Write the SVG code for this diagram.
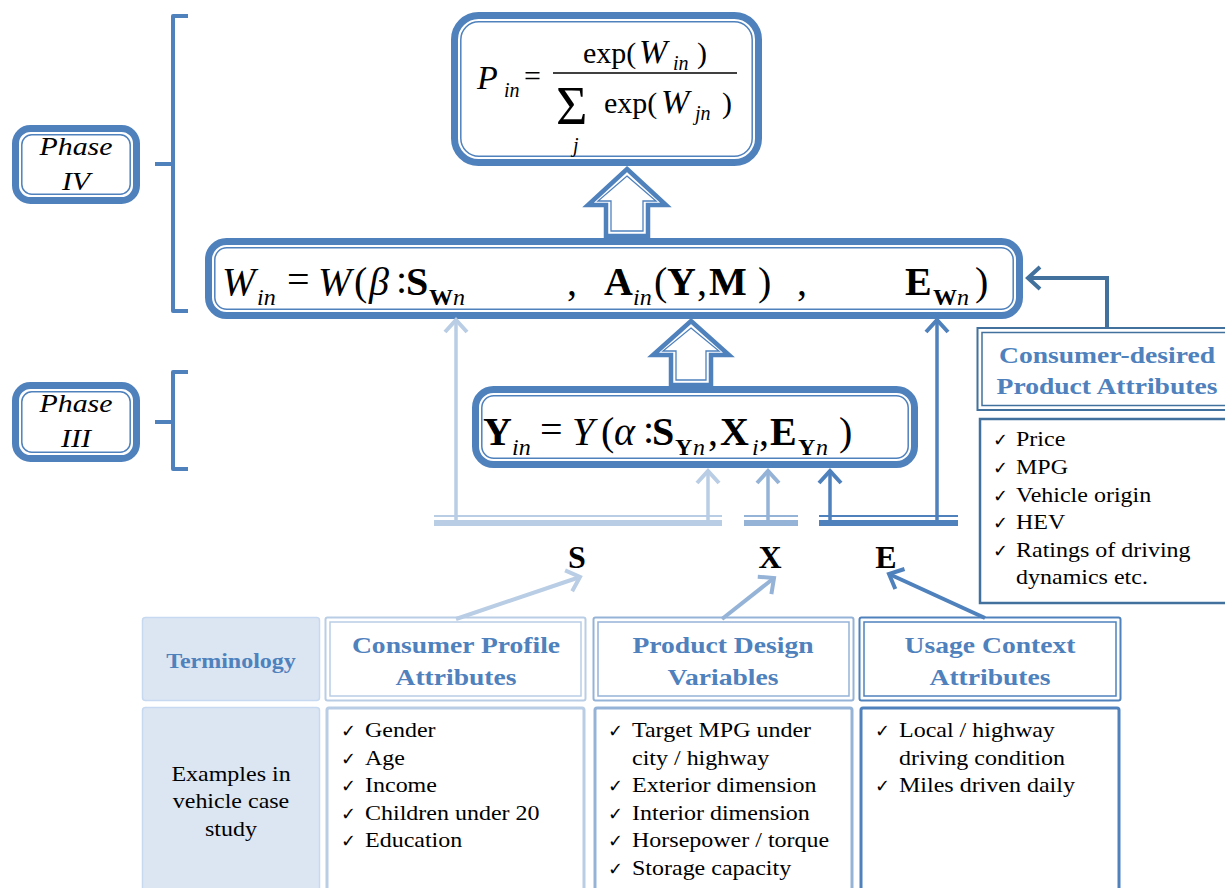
<svg xmlns="http://www.w3.org/2000/svg" width="1225" height="888" viewBox="0 0 1225 888">
  <style>
    .serif { font-family: "Liberation Serif", "Times New Roman", serif; }
    .it { font-style: italic; }
    .b { font-weight: bold; }
    .main { font-size: 40px; }
    .sub { font-size: 24px; }
    .frm { font-size: 30px; }
    .fbig { font-size: 34px; }
    .fsub { font-size: 20px; }
    .phase { font-size: 26px; font-style: italic; }
    .head { font-size: 23px; font-weight: bold; fill: #4F81BD; }
    .item { font-size: 20px; fill: #000; }
    .chk { font-family: "DejaVu Sans", sans-serif; font-size: 18px; }
    .thick { fill: #fff; stroke: #4F81BD; stroke-width: 7; }
    .thin { fill: none; stroke: #4F81BD; stroke-width: 1.5; }
    .brace { fill: none; stroke: #4F81BD; stroke-width: 4; stroke-linejoin: round; }
    .blk { fill: #fff; stroke: #4F81BD; stroke-width: 4.5; stroke-linejoin: miter; }
    .blkin { fill: none; stroke: #4F81BD; stroke-width: 1.3; stroke-linejoin: miter; }
    .grey { fill: #DCE6F2; stroke: #C6D9F1; stroke-width: 1.5; }
  </style>
  <defs>
    <marker id="aS" markerUnits="userSpaceOnUse" orient="auto" overflow="visible" markerWidth="1" markerHeight="1">
      <path d="M-12,-11 L0,0 L-12,11" fill="none" stroke="#B9CDE5" stroke-width="4"/>
    </marker>
    <marker id="aX" markerUnits="userSpaceOnUse" orient="auto" overflow="visible" markerWidth="1" markerHeight="1">
      <path d="M-12,-11 L0,0 L-12,11" fill="none" stroke="#95B3D7" stroke-width="4"/>
    </marker>
    <marker id="aE" markerUnits="userSpaceOnUse" orient="auto" overflow="visible" markerWidth="1" markerHeight="1">
      <path d="M-12,-11 L0,0 L-12,11" fill="none" stroke="#4F81BD" stroke-width="4"/>
    </marker>
    <marker id="aD" markerUnits="userSpaceOnUse" orient="auto" overflow="visible" markerWidth="1" markerHeight="1">
      <path d="M-12,-11 L0,0 L-12,11" fill="none" stroke="#41719C" stroke-width="4"/>
    </marker>
  </defs>
  <rect width="1225" height="888" fill="#fff"/>

  <!-- phase labels and braces -->
  <g id="phase4">
    <rect class="thick" x="15.5" y="128.5" width="121" height="72" rx="15"/>
    <rect class="thin" x="21.8" y="134.8" width="108.4" height="59.4" rx="10"/>
    <text class="serif phase" x="76" y="155" text-anchor="middle" transform="matrix(1.15 0 0 1 -11.4 0)">Phase</text>
    <text class="serif phase" x="76" y="190" text-anchor="middle" transform="matrix(1.15 0 0 1 -11.4 0)">IV</text>
  </g>
  <g id="phase3">
    <rect class="thick" x="15.5" y="385.5" width="121" height="73" rx="15"/>
    <rect class="thin" x="21.8" y="391.8" width="108.4" height="60.4" rx="10"/>
    <text class="serif phase" x="76" y="412" text-anchor="middle" transform="matrix(1.15 0 0 1 -11.4 0)">Phase</text>
    <text class="serif phase" x="76" y="447" text-anchor="middle" transform="matrix(1.15 0 0 1 -11.4 0)">III</text>
  </g>
  <g id="braces">
    <path class="brace" d="M188,16 H173 V311 H188 M155,164 H173"/>
    <path class="brace" d="M188,372 H173 V469 H188 M155,422 H173"/>
  </g>

  <!-- choice probability -->
  <g id="prob">
    <rect class="thick" x="454.5" y="15.5" width="304" height="147" rx="24"/>
    <rect class="thin" x="460.8" y="21.8" width="291.4" height="134.4" rx="18"/>
    <g class="serif frm">
      <text class="it fbig" x="477" y="89">P</text>
      <text class="it fsub" x="504" y="97">in</text>
      <text x="524" y="86">=</text>
      <line x1="553" y1="73" x2="737" y2="73" stroke="#000" stroke-width="1.5"/>
      <text x="583" y="63">exp(</text>
      <text class="it fbig" x="639" y="63">W</text>
      <text class="it fsub" x="673" y="70">in</text>
      <text x="697" y="63">)</text>
      <text x="556" y="124" style="font-size:54px">Σ</text>
      <text class="it fsub" x="573" y="152">j</text>
      <text x="604" y="113">exp(</text>
      <text class="it fbig" x="661" y="113">W</text>
      <text class="it fsub" x="695" y="120">jn</text>
      <text x="722" y="113">)</text>
    </g>
  </g>

  <!-- utility -->
  <g id="utility">
    <rect class="thick" x="208.5" y="241.5" width="811" height="74" rx="18"/>
    <rect class="thin" x="214.8" y="247.8" width="798.4" height="61.4" rx="12"/>
    <g class="serif main">
      <text class="it" x="222" y="295">W</text>
      <text class="it sub" x="257" y="305">in</text>
      <text x="287" y="293">=</text>
      <text class="it" x="318" y="295">W</text>
      <text x="354" y="295">(</text>
      <text class="it" x="369" y="295">β</text>
      <text x="396" y="293">:</text>
      <text class="b" x="406" y="295">S</text>
      <text class="b sub" x="429" y="305">W</text>
      <text class="it sub" x="453" y="305">n</text>
      <text x="567" y="295">,</text>
      <text class="b" x="604" y="295">A</text>
      <text class="it sub" x="633" y="305">in</text>
      <text x="654" y="295">(</text>
      <text class="b" x="667" y="295">Y</text>
      <text x="697" y="295">,</text>
      <text class="b" x="709" y="295">M</text>
      <text x="758" y="295">)</text>
      <text x="797" y="295">,</text>
      <text class="b" x="905" y="295">E</text>
      <text class="b sub" x="933" y="305">W</text>
      <text class="it sub" x="957" y="305">n</text>
      <text x="975" y="295">)</text>
    </g>
  </g>

  <!-- attribute mapping -->
  <g id="mapping">
    <rect class="thick" x="475.5" y="389.5" width="439" height="75" rx="18"/>
    <rect class="thin" x="481.8" y="395.8" width="426.4" height="62.4" rx="12"/>
    <g class="serif main">
      <text class="b" x="483" y="445">Y</text>
      <text class="it sub" x="512" y="455">in</text>
      <text x="540" y="443">=</text>
      <text class="it" x="572" y="445">Y</text>
      <text x="601" y="445">(</text>
      <text class="it" x="614" y="445">α</text>
      <text x="643" y="443">:</text>
      <text class="b" x="652" y="445">S</text>
      <text class="b sub" x="675" y="455">Y</text>
      <text class="it sub" x="693" y="455">n</text>
      <text x="708" y="445">,</text>
      <text class="b" x="720" y="445">X</text>
      <text class="it sub" x="752" y="455">i</text>
      <text x="759" y="445">,</text>
      <text class="b" x="770" y="445">E</text>
      <text class="b sub" x="798" y="455">Y</text>
      <text class="it sub" x="816" y="455">n</text>
      <text x="839" y="445">)</text>
    </g>
  </g>

  <!-- block arrows between stages -->
  <g id="up1">
    <polygon class="blk" points="627,169 666,205 648,205 648,236 606,236 606,205 588,205"/>
    <polygon class="blkin" points="627,176 656,201 643,201 643,231 611,231 611,201 598,201"/>
  </g>
  <g id="up2">
    <polygon class="blk" points="691,321 729,355 711,355 711,385 671,385 671,355 653,355"/>
    <polygon class="blkin" points="691,328 719,351 706,351 706,380 676,380 676,351 663,351"/>
  </g>

  <!-- desired attributes -->
  <g id="desired">
    <rect x="977.5" y="328" width="260" height="82" fill="#fff" stroke="#41719C" stroke-width="2"/>
    <rect x="982" y="332.5" width="260" height="73" fill="none" stroke="#41719C" stroke-width="1.5"/>
    <text class="serif head" transform="matrix(1.2 0 0 1 1107 363)" text-anchor="middle">Consumer-desired</text>
    <text class="serif head" transform="matrix(1.2 0 0 1 1107 394)" text-anchor="middle">Product Attributes</text>
  </g>
  <g id="desired-list">
    <rect x="980" y="419" width="260" height="184" fill="#fff" stroke="#41719C" stroke-width="2.5"/>
    <g class="serif item">
      <text class="chk" x="993" y="446">✓</text><text transform="matrix(1.2 0 0 1 1016 446)">Price</text>
      <text class="chk" x="993" y="474">✓</text><text transform="matrix(1.2 0 0 1 1016 474)">MPG</text>
      <text class="chk" x="993" y="502">✓</text><text transform="matrix(1.2 0 0 1 1016 502)">Vehicle origin</text>
      <text class="chk" x="993" y="529">✓</text><text transform="matrix(1.2 0 0 1 1016 529)">HEV</text>
      <text class="chk" x="993" y="557">✓</text><text transform="matrix(1.2 0 0 1 1016 557)">Ratings of driving</text>
      <text transform="matrix(1.2 0 0 1 1016 584)">dynamics etc.</text>
    </g>
  </g>

  <!-- variable symbols -->
  <g id="symbols" class="serif b" style="font-size:32px">
    <text x="577" y="568" text-anchor="middle">S</text>
    <text x="770" y="568" text-anchor="middle">X</text>
    <text x="886" y="568" text-anchor="middle">E</text>
  </g>

  <!-- terminology table -->
  <g id="term">
    <rect class="grey" x="142.5" y="617.5" width="177" height="83" rx="3"/>
    <text class="serif head" style="font-size:20px" transform="matrix(1.2 0 0 1 231 668)" text-anchor="middle">Terminology</text>
  </g>
  <g id="examples">
    <rect class="grey" x="142.5" y="707.5" width="177" height="190" rx="3"/>
    <g class="serif item" text-anchor="middle">
      <text transform="matrix(1.2 0 0 1 231 781)">Examples in</text>
      <text transform="matrix(1.2 0 0 1 231 808)">vehicle case</text>
      <text transform="matrix(1.2 0 0 1 231 836)">study</text>
    </g>
  </g>
  <g id="profile-head">
    <rect x="325.5" y="617.5" width="260" height="83" rx="2" fill="#fff" stroke="#B9CDE5" stroke-width="2"/>
    <rect x="330" y="622" width="251" height="74" fill="none" stroke="#B9CDE5" stroke-width="1.5"/>
    <text class="serif head" transform="matrix(1.2 0 0 1 456 653)" text-anchor="middle">Consumer Profile</text>
    <text class="serif head" transform="matrix(1.2 0 0 1 456 685)" text-anchor="middle">Attributes</text>
  </g>
  <g id="profile-list">
    <rect x="327" y="708" width="257" height="190" rx="2" fill="#fff" stroke="#B9CDE5" stroke-width="3"/>
    <g class="serif item">
      <text class="chk" x="341" y="737">✓</text><text transform="matrix(1.2 0 0 1 365 737)">Gender</text>
      <text class="chk" x="341" y="765">✓</text><text transform="matrix(1.2 0 0 1 365 765)">Age</text>
      <text class="chk" x="341" y="792">✓</text><text transform="matrix(1.2 0 0 1 365 792)">Income</text>
      <text class="chk" x="341" y="820">✓</text><text transform="matrix(1.2 0 0 1 365 820)">Children under 20</text>
      <text class="chk" x="341" y="847">✓</text><text transform="matrix(1.2 0 0 1 365 847)">Education</text>
    </g>
  </g>
  <g id="design-head">
    <rect x="593.5" y="617.5" width="260" height="83" rx="2" fill="#fff" stroke="#95B3D7" stroke-width="2"/>
    <rect x="598" y="622" width="251" height="74" fill="none" stroke="#95B3D7" stroke-width="1.5"/>
    <text class="serif head" transform="matrix(1.2 0 0 1 723 653)" text-anchor="middle">Product Design</text>
    <text class="serif head" transform="matrix(1.2 0 0 1 723 685)" text-anchor="middle">Variables</text>
  </g>
  <g id="design-list">
    <rect x="595" y="708" width="257" height="190" rx="2" fill="#fff" stroke="#95B3D7" stroke-width="3"/>
    <g class="serif item">
      <text class="chk" x="608" y="737">✓</text><text transform="matrix(1.2 0 0 1 632 737)">Target MPG under</text>
      <text transform="matrix(1.2 0 0 1 632 765)">city / highway</text>
      <text class="chk" x="608" y="792">✓</text><text transform="matrix(1.2 0 0 1 632 792)">Exterior dimension</text>
      <text class="chk" x="608" y="820">✓</text><text transform="matrix(1.2 0 0 1 632 820)">Interior dimension</text>
      <text class="chk" x="608" y="847">✓</text><text transform="matrix(1.2 0 0 1 632 847)">Horsepower / torque</text>
      <text class="chk" x="608" y="875">✓</text><text transform="matrix(1.2 0 0 1 632 875)">Storage capacity</text>
    </g>
  </g>
  <g id="usage-head">
    <rect x="859.5" y="617.5" width="261" height="83" rx="2" fill="#fff" stroke="#4F81BD" stroke-width="2"/>
    <rect x="864" y="622" width="252" height="74" fill="none" stroke="#4F81BD" stroke-width="1.5"/>
    <text class="serif head" transform="matrix(1.2 0 0 1 990 653)" text-anchor="middle">Usage Context</text>
    <text class="serif head" transform="matrix(1.2 0 0 1 990 685)" text-anchor="middle">Attributes</text>
  </g>
  <g id="usage-list">
    <rect x="861" y="708" width="258" height="190" rx="2" fill="#fff" stroke="#4F81BD" stroke-width="3"/>
    <g class="serif item">
      <text class="chk" x="875" y="737">✓</text><text transform="matrix(1.2 0 0 1 899 737)">Local / highway</text>
      <text transform="matrix(1.2 0 0 1 899 765)">driving condition</text>
      <text class="chk" x="875" y="792">✓</text><text transform="matrix(1.2 0 0 1 899 792)">Miles driven daily</text>
    </g>
  </g>

  <!-- connectors -->
  <g id="connectors" fill="none" stroke-width="3.5">
    <!-- buses -->
    <g stroke-width="2">
      <line x1="434" y1="516" x2="722" y2="516" stroke="#B9CDE5"/>
      <line x1="744" y1="516" x2="798" y2="516" stroke="#95B3D7"/>
      <line x1="819" y1="516" x2="958" y2="516" stroke="#4F81BD"/>
    </g>
    <g stroke-width="6">
      <line x1="434" y1="523" x2="722" y2="523" stroke="#B9CDE5"/>
      <line x1="744" y1="523" x2="798" y2="523" stroke="#95B3D7"/>
      <line x1="819" y1="523" x2="958" y2="523" stroke="#4F81BD"/>
    </g>
    <!-- risers -->
    <line x1="456" y1="520" x2="456" y2="320" stroke="#B9CDE5" marker-end="url(#aS)"/>
    <line x1="708" y1="520" x2="708" y2="471" stroke="#B9CDE5" marker-end="url(#aS)"/>
    <line x1="768" y1="520" x2="768" y2="471" stroke="#95B3D7" marker-end="url(#aX)"/>
    <line x1="830" y1="520" x2="830" y2="471" stroke="#4F81BD" marker-end="url(#aE)"/>
    <line x1="937" y1="520" x2="937" y2="320" stroke="#4F81BD" marker-end="url(#aE)"/>
    <!-- table to symbols -->
    <line x1="456" y1="619" x2="580" y2="577" stroke="#B9CDE5" stroke-width="4" marker-end="url(#aS)"/>
    <line x1="722" y1="619" x2="774" y2="578" stroke="#95B3D7" stroke-width="4" marker-end="url(#aX)"/>
    <line x1="985" y1="618" x2="889" y2="574" stroke="#4F81BD" stroke-width="4" marker-end="url(#aE)"/>
    <!-- desired attributes into utility -->
    <path d="M1107,328 V278 H1028" stroke="#41719C" stroke-width="4" marker-end="url(#aD)"/>
  </g>
</svg>
